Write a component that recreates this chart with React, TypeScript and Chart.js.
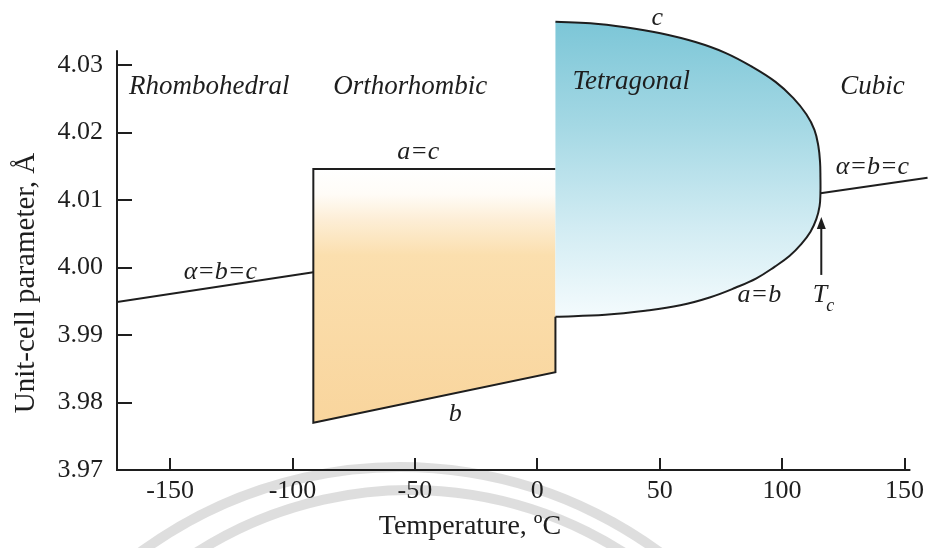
import React, { useEffect, useRef } from "react";
import { Chart, registerables } from "chart.js";

Chart.register(...registerables);

// Axis ranges and tick labels (temperature in °C, lattice parameter in Å)
const xMin = -171.7;
const xMax = 160;
const xAxisEnd = 152.4;
const yMin = 3.97;
const yMax = 4.038;
const yAxisTop = 4.0322;
const xTickValues = [-150, -100, -50, 0, 50, 100, 150];
const yTickValues = [3.97, 3.98, 3.99, 4.0, 4.01, 4.02, 4.03];

// Rhombohedral phase: a = b = c
const rhomboTemps = [-171.7, -91.5];
const rhomboParam = [3.9949, 3.9993];

// Orthorhombic phase: a = c (upper edge) and b (lower edge)
const orthoTemps = [-91.5, 7.4];
const orthoAC = [4.0146, 4.0146];
const orthoB = [3.977, 3.9845];

// Tetragonal phase: c branch (left to right, down towards Tc)
const tetraCTemps = [7.4, 21.7, 36.0, 50.3, 64.6, 76.8, 87.9, 97.3, 104.6, 109.9, 113.2, 114.8, 115.5, 115.65];
const tetraC = [4.0364, 4.0362, 4.0356, 4.0347, 4.0334, 4.0318, 4.0297, 4.0275, 4.0251, 4.0227, 4.0204, 4.018, 4.0156, 4.0133];

// Tetragonal phase: a = b branch (from Tc back to the orthorhombic boundary)
const tetraABTemps = [115.65, 115.3, 114.0, 111.6, 107.9, 103.0, 96.9, 89.5, 80.9, 70.7, 58.4, 44.1, 27.8, 7.4];
const tetraAB = [4.011, 4.0091, 4.0072, 4.0053, 4.0035, 4.0017, 4.0001, 3.9984, 3.997, 3.9956, 3.9944, 3.9936, 3.993, 3.9927];

// Cubic phase: a = b = c
const cubicTemps = [115.65, 159.4];
const cubicParam = [4.011, 4.0133];

// Curie temperature marker
const curieTemp = 116;
const curieArrowFrom = 3.9989;
const curieArrowTo = 4.0075;

// Phase names and lattice relations: [text, temperature, parameter]
const phaseLabels: [string, number, number][] = [
  ["Rhombohedral", -134, 4.0257],
  ["Orthorhombic", -51.9, 4.0257],
  ["Tetragonal", 38.4, 4.0264],
  ["Cubic", 136.9, 4.0257],
];
const relationLabels: [string, number, number][] = [
  ["a=c", -48.6, 4.0161],
  ["c", 49.0, 4.0359],
  ["α=b=c", -129.5, 3.9983],
  ["α=b=c", 136.9, 4.0138],
  ["a=b", 90.7, 3.9949],
  ["b", -33.5, 3.9772],
];

const INK = "#1e1e1e";
const SERIF = '"Liberation Serif", "Times New Roman", serif';

const pts = (xs: number[], ys: number[]) => xs.map((x, i) => ({ x, y: ys[i] }));

const orthoOutline = [
  { x: orthoTemps[1], y: tetraAB[tetraAB.length - 1] },
  { x: orthoTemps[1], y: orthoB[1] },
  { x: orthoTemps[0], y: orthoB[0] },
  { x: orthoTemps[0], y: orthoAC[0] },
  { x: orthoTemps[1], y: orthoAC[1] },
];
const tetraOutline = [...pts(tetraCTemps, tetraC), ...pts(tetraABTemps, tetraAB)];

function orthoFill(context: any) {
  const chart = context.chart;
  const y = chart.scales && chart.scales.y;
  if (!chart.chartArea || !y) return "rgba(0,0,0,0)";
  const top = y.getPixelForValue(orthoAC[0]);
  const bottom = y.getPixelForValue(orthoB[0]);
  const g = chart.ctx.createLinearGradient(0, top, 0, bottom);
  g.addColorStop(0, "#ffffff");
  g.addColorStop(0.1, "#fffcf7");
  g.addColorStop(0.2, "#fdeed6");
  g.addColorStop(0.34, "#fbdfae");
  g.addColorStop(1, "#f9d59d");
  return g;
}

function tetraFill(context: any) {
  const chart = context.chart;
  const y = chart.scales && chart.scales.y;
  if (!chart.chartArea || !y) return "rgba(0,0,0,0)";
  const top = y.getPixelForValue(tetraC[0]);
  const bottom = y.getPixelForValue(tetraAB[tetraAB.length - 1]);
  const g = chart.ctx.createLinearGradient(0, top, 0, bottom);
  g.addColorStop(0, "#7cc6d7");
  g.addColorStop(0.35, "#a4d8e4");
  g.addColorStop(0.7, "#d2ecf3");
  g.addColorStop(1, "#f4fbfd");
  return g;
}

// faint publisher watermark rings behind the plot
const watermark = {
  id: "watermark",
  beforeDraw(chart: any) {
    const { ctx } = chart;
    ctx.save();
    ctx.strokeStyle = "rgba(200,200,200,0.6)";
    ctx.lineWidth = 10;
    ctx.beginPath();
    ctx.arc(400, 905, 438, Math.PI * 1.05, Math.PI * 1.95);
    ctx.stroke();
    ctx.beginPath();
    ctx.arc(410, 886, 396, Math.PI * 1.05, Math.PI * 1.95);
    ctx.stroke();
    ctx.restore();
  },
};

const decorations = {
  id: "decorations",
  afterDatasetsDraw(chart: any) {
    const { ctx, chartArea } = chart;
    const x = chart.scales.x;
    const y = chart.scales.y;
    ctx.save();
    ctx.strokeStyle = INK;
    ctx.fillStyle = INK;
    ctx.lineWidth = 2;

    // axis lines with inward ticks
    const x0 = chartArea.left;
    const y0 = y.getPixelForValue(yMin);
    ctx.beginPath();
    ctx.moveTo(x0, y.getPixelForValue(yAxisTop));
    ctx.lineTo(x0, y0);
    ctx.lineTo(x.getPixelForValue(xAxisEnd), y0);
    ctx.stroke();
    ctx.beginPath();
    for (const v of yTickValues) {
      const py = Math.round(y.getPixelForValue(v));
      ctx.moveTo(x0, py);
      ctx.lineTo(x0 + 15, py);
    }
    for (const t of xTickValues) {
      const px = Math.round(x.getPixelForValue(t));
      ctx.moveTo(px, y0);
      ctx.lineTo(px, y0 - 12);
    }
    ctx.stroke();

    // Tc arrow
    const ax = x.getPixelForValue(curieTemp);
    const aFrom = y.getPixelForValue(curieArrowFrom);
    const aTo = y.getPixelForValue(curieArrowTo);
    ctx.beginPath();
    ctx.moveTo(ax, aFrom);
    ctx.lineTo(ax, aTo + 8);
    ctx.stroke();
    ctx.beginPath();
    ctx.moveTo(ax, aTo);
    ctx.lineTo(ax - 4.5, aTo + 12);
    ctx.lineTo(ax + 4.5, aTo + 12);
    ctx.closePath();
    ctx.fill();

    // phase names
    ctx.textAlign = "center";
    ctx.textBaseline = "alphabetic";
    ctx.font = `italic 27px ${SERIF}`;
    for (const [text, t, v] of phaseLabels) {
      ctx.fillText(text, x.getPixelForValue(t), y.getPixelForValue(v));
    }
    ctx.font = `italic 26px ${SERIF}`;
    for (const [text, t, v] of relationLabels) {
      ctx.fillText(text, x.getPixelForValue(t), y.getPixelForValue(v));
    }
    // T with subscript c
    const tcx = x.getPixelForValue(curieTemp);
    const tcy = y.getPixelForValue(3.9949);
    ctx.textAlign = "right";
    ctx.fillText("T", tcx + 6, tcy);
    ctx.textAlign = "left";
    ctx.font = `italic 18px ${SERIF}`;
    ctx.fillText("c", tcx + 5, tcy + 9);

    // axis titles
    ctx.font = `28px ${SERIF}`;
    ctx.textAlign = "center";
    ctx.textBaseline = "middle";
    ctx.fillText("Temperature, ºC", 470, 527);
    ctx.translate(26, 283);
    ctx.rotate(-Math.PI / 2);
    ctx.font = `29px ${SERIF}`;
    ctx.fillText("Unit-cell parameter, Å", 0, 0);
    ctx.restore();
  },
};

export default function App() {
  const canvasRef = useRef<HTMLCanvasElement | null>(null);

  useEffect(() => {
    document.body.style.margin = "0";
    const canvas = canvasRef.current;
    if (!canvas) return;
    const line = { borderColor: INK, borderWidth: 2, pointRadius: 0, fill: false };
    const chart = new Chart(canvas, {
      type: "line",
      data: {
        datasets: [
          { ...line, data: pts(rhomboTemps, rhomboParam) },
          { ...line, data: pts(cubicTemps, cubicParam) },
          {
            ...line,
            data: tetraOutline,
            tension: 0.4,
            fill: "shape",
            backgroundColor: tetraFill,
          },
          {
            ...line,
            data: orthoOutline,
            tension: 0,
            fill: "shape",
            backgroundColor: orthoFill,
          },
        ],
      },
      options: {
        responsive: false,
        animation: false,
        layout: { padding: { top: 11, right: 9, left: 0, bottom: 0 } },
        plugins: { legend: { display: false }, tooltip: { enabled: false } },
        scales: {
          x: {
            type: "linear",
            min: xMin,
            max: xMax,
            grid: { display: false, drawTicks: false },
            border: { display: false },
            afterBuildTicks: (s: any) => {
              s.ticks = xTickValues.map((value) => ({ value }));
            },
            afterFit: (s: any) => {
              s.height = 78;
              s.paddingLeft = 0;
              s.paddingRight = 0;
            },
            ticks: {
              padding: 6,
              color: INK,
              font: { family: SERIF, size: 26 },
              maxRotation: 0,
              callback: (v: any) => String(v),
            },
          },
          y: {
            type: "linear",
            min: yMin,
            max: yMax,
            grid: { display: false, drawTicks: false },
            border: { display: false },
            afterBuildTicks: (s: any) => {
              s.ticks = yTickValues.map((value) => ({ value }));
            },
            afterFit: (s: any) => {
              s.width = 117;
              s.paddingTop = 0;
              s.paddingBottom = 0;
            },
            ticks: {
              padding: 14,
              color: INK,
              font: { family: SERIF, size: 26 },
              callback: (v: any) => Number(v).toFixed(2),
            },
          },
        },
      },
      plugins: [watermark, decorations],
    });
    return () => chart.destroy();
  }, []);

  return (
    <div style={{ position: "absolute", left: 0, top: 0, width: 938, height: 548, background: "#fff" }}>
      <canvas ref={canvasRef} width={938} height={548} />
    </div>
  );
}
